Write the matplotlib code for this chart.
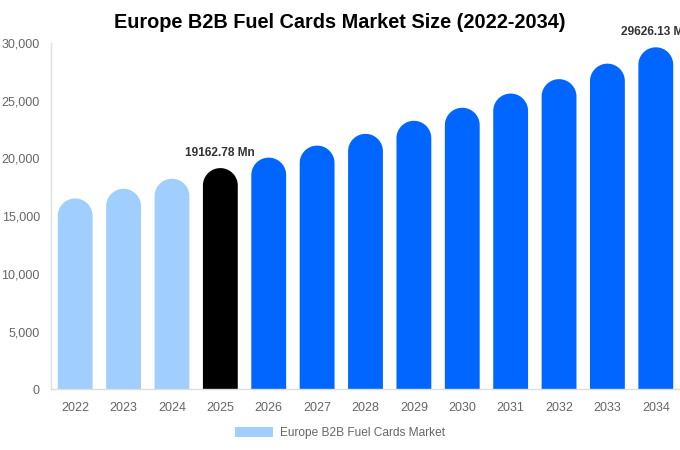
import numpy as np
import matplotlib
matplotlib.use("Agg")
import matplotlib.pyplot as plt
from matplotlib.patches import Polygon, Patch

years = ["2022", "2023", "2024", "2025", "2026", "2027", "2028", "2029", "2030", "2031", "2032", "2033", "2034"]
values = [16530, 17370, 18240, 19162.78, 20070, 21110, 22130, 23260, 24390, 25620, 26870, 28210, 29626.13]
colors = ["#a0cfff"] * 3 + ["#000000"] + ["#0066ff"] * 9
labels = {3: "19162.78 Mn", 12: "29626.13 Mn"}
yticks = [0, 5000, 10000, 15000, 20000, 25000, 30000]
title = "Europe B2B Fuel Cards Market Size (2022-2034)"
legend_label = "Europe B2B Fuel Cards Market"

plt.rcParams["font.family"] = ["Liberation Sans", "DejaVu Sans"]

W, H = 680, 450
fig = plt.figure(figsize=(W / 100, H / 100), dpi=100)
ax_l, ax_r, ax_b, ax_t = 51, 680, 389.3, 43
ax = fig.add_axes([ax_l / W, (H - ax_b) / H, (ax_r - ax_l) / W, (ax_b - ax_t) / H])

n = len(years)
ax.set_xlim(-0.5, n - 0.5)
ax.set_ylim(0, 30000)

bar_w = 0.72
px_per_x = (ax_r - ax_l) / n
px_per_y = (ax_b - ax_t) / 30000
r_px = bar_w * px_per_x / 2
ry = r_px / px_per_y
theta = np.linspace(0, np.pi, 60)

for i, (v, c) in enumerate(zip(values, colors)):
    hw = bar_w / 2
    cy = v - ry
    arc = np.column_stack([i + hw * np.cos(theta), cy + ry * np.sin(theta)])
    verts = np.vstack([[[i - hw, 0], [i + hw, 0]], arc, [[i - hw, 0]]])
    ax.add_patch(Polygon(verts, closed=True, facecolor=c, edgecolor="none", lw=0))
    if i in labels:
        ax.annotate(labels[i], (i, v), xytext=(0, 6.5), textcoords="offset points",
                    ha="center", va="bottom", fontsize=8.6, fontweight="bold",
                    color="#333333", annotation_clip=False)

ax.set_xticks(range(n))
ax.set_xticklabels(years)
ax.set_yticks(yticks)
ax.set_yticklabels([f"{t:,}" for t in yticks])
ax.tick_params(axis="both", length=0, labelsize=9, colors="#666666")
ax.tick_params(axis="x", pad=9)
ax.tick_params(axis="y", pad=8)

for s in ["top", "right"]:
    ax.spines[s].set_visible(False)
ax.spines["left"].set_color("#e0e0e0")
ax.spines["bottom"].set_color("#dddddd")
ax.spines["left"].set_linewidth(1)
ax.spines["bottom"].set_linewidth(1)

fig.text(340 / W, 1 - 22 / H, title, ha="center", va="center", fontsize=14.3, fontweight="bold", color="#000000")

handle = Patch(facecolor="#a0cfff", edgecolor="none")
fig.legend([handle], [legend_label], loc="center", bbox_to_anchor=(340 / W, 1 - 433 / H),
           frameon=False, fontsize=8.6, handlelength=3.2, handleheight=0.95,
           labelcolor="#666666", handletextpad=0.55)

fig.savefig("out.png", dpi=100)
